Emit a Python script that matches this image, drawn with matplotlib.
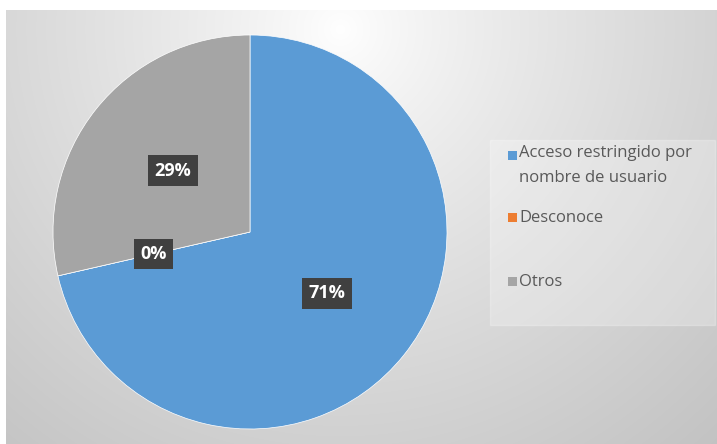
import numpy as np
import matplotlib.pyplot as plt
from matplotlib.patches import Rectangle

# datos
categorias = ["Acceso restringido por\nnombre de usuario", "Desconoce", "Otros"]
valores = [5, 0, 2]
colores = ["#5B9BD5", "#ED7D31", "#A5A5A5"]

W, H = 717, 444
fig = plt.figure(figsize=(W / 100, H / 100), dpi=100)
fig.patch.set_facecolor("white")

# fondo con degradado radial
bg = fig.add_axes([6 / W, 0, (W - 6) / W, (H - 10) / H], zorder=-10)
xx, yy = np.meshgrid(np.arange(6, W), np.arange(10, H))
d = np.sqrt((xx - 340) ** 2 + (yy - 30) ** 2) / 540
g = 1 - 0.23 * np.clip(d, 0, 1.1) ** 0.85
bg.imshow(np.dstack([g, g, g]), aspect="auto", extent=[0, 1, 0, 1])
bg.axis("off")

# pastel
cx, cy, r = 250, 232, 197
ax = fig.add_axes([(cx - r) / W, (H - cy - r) / H, 2 * r / W, 2 * r / H])
wedges, texts, autotexts = ax.pie(
    valores, colors=colores, startangle=90, counterclock=False,
    autopct=lambda p: "%d%%" % round(p), pctdistance=0.5, radius=1,
    wedgeprops=dict(edgecolor="white", linewidth=0.5),
)
for t in autotexts:
    t.set_color("white")
    t.set_fontweight("bold")
    t.set_fontsize(13)
    t.set_fontfamily("Open Sans")
    t.set_bbox(dict(boxstyle="square,pad=0.35", fc="#404040", ec="none"))
ax.set_xlim(-1, 1)
ax.set_ylim(-1, 1)
ax.set_aspect("equal")
ax.axis("off")

# leyenda
fig.patches.append(Rectangle((490 / W, (H - 325) / H), 225 / W, 185 / H,
                             transform=fig.transFigure, fc="white", alpha=0.25,
                             ec="white", lw=1, zorder=-5))
ys = [156, 218, 282]
for lab, col, y in zip(categorias, colores, ys):
    fig.patches.append(Rectangle((508 / W, (H - y - 4) / H), 9 / W, 9 / H,
                                 transform=fig.transFigure, fc=col, ec="none"))
    if "\n" in lab:
        fig.text(519 / W, (H - y + 11) / H, lab, fontsize=12, color="#595959",
                 family="Open Sans", va="top", linespacing=1.75)
    else:
        fig.text(519 / W, (H - y) / H, lab, fontsize=12, color="#595959",
                 family="Open Sans", va="center")

fig.savefig("out.png", dpi=100)
